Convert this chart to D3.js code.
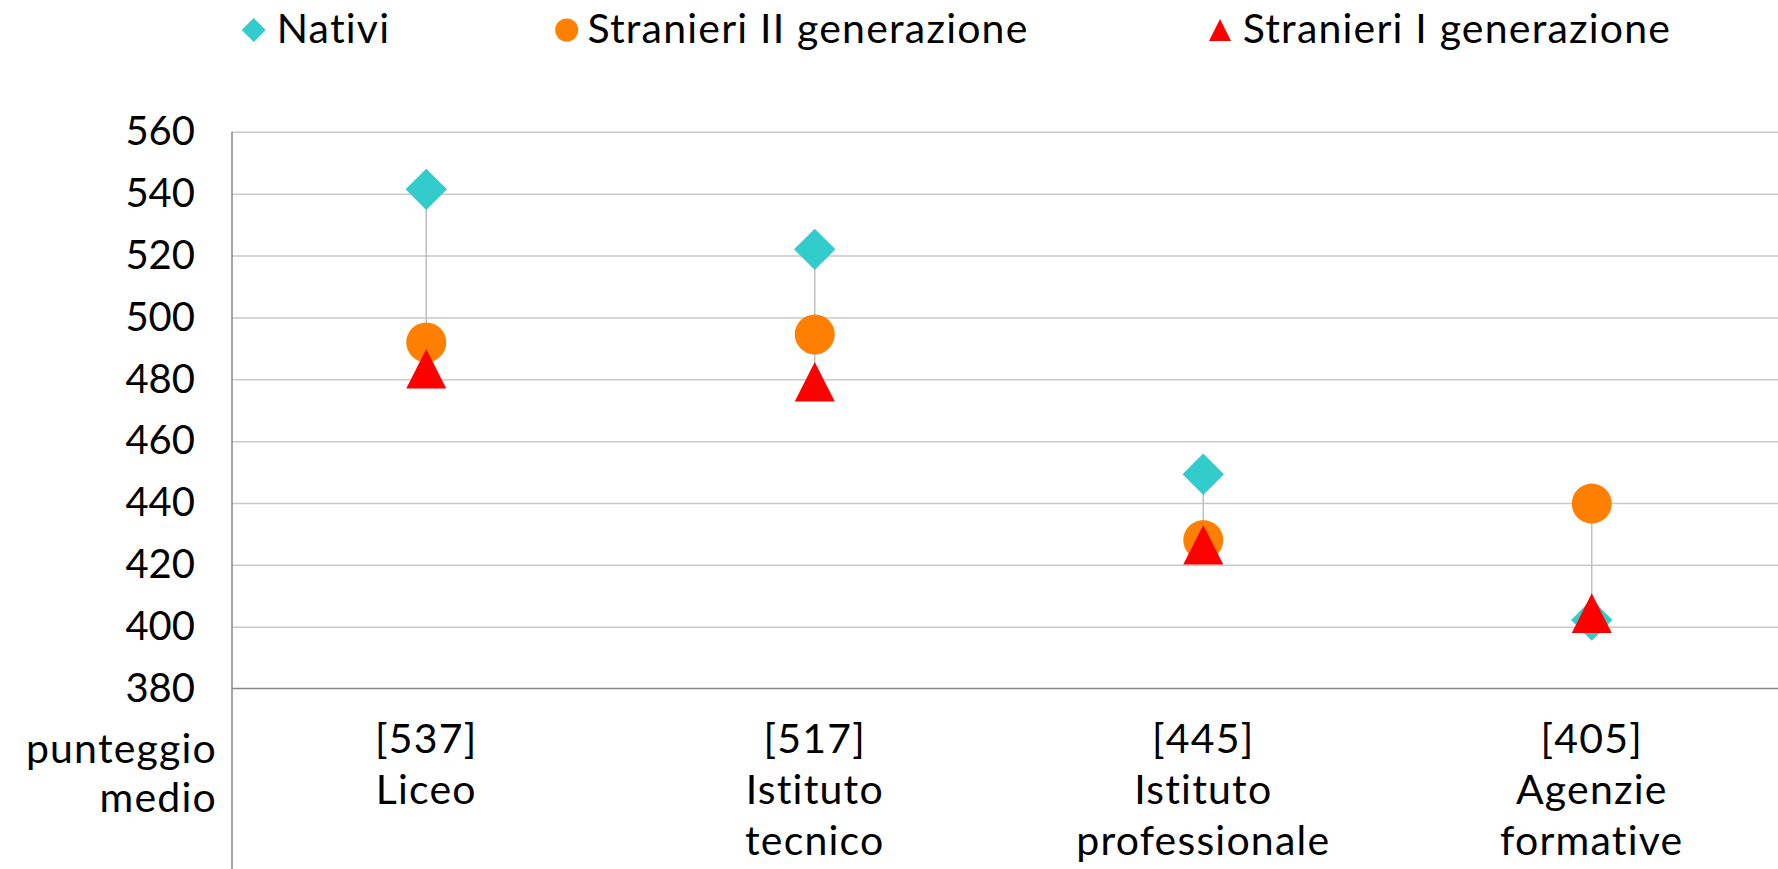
<!DOCTYPE html>
<html>
<head>
<meta charset="utf-8">
<script src="https://cdn.jsdelivr.net/npm/d3@7"></script>
<style>
  html, body { margin: 0; padding: 0; background: #ffffff; }
  svg { display: block; }
  text { font-family: Lato, "Open Sans", sans-serif; fill: #000; }
  .lbl { font-size: 41px; letter-spacing: 1.2px; }
</style>
</head>
<body>
<svg id="chart" width="1778" height="869"></svg>
<script>
// ---- data ----
const categories = ["Liceo", "Istituto tecnico", "Istituto professionale", "Agenzie formative"];
const categoryLines = [["[537]", "Liceo"], ["[517]", "Istituto", "tecnico"], ["[445]", "Istituto", "professionale"], ["[405]", "Agenzie", "formative"]];
const nativi = [541.4, 522.0, 449.3, 402.2];
const stranieriII = [491.9, 494.5, 428.0, 439.8];
const stranieriI = [483.4, 479.2, 426.5, 404.4];
const yTicks = [380, 400, 420, 440, 460, 480, 500, 520, 540, 560];
const seriesNames = ["Nativi", "Stranieri II generazione", "Stranieri I generazione"];
const axisTitleLines = ["punteggio", "medio"];

// ---- layout ----
const W = 1778, H = 869;
const plotLeft = 232, plotRight = 1786, plotTop = 131.8, plotBottom = 688.6;
const colors = { nativi: "#33CCCC", II: "#FF8000", I: "#FF0000" };

const svg = d3.select("#chart");

const x = d3.scalePoint().domain(categories).range([plotLeft, plotRight]).padding(0.5);
const y = d3.scaleLinear().domain([380, 560]).range([plotBottom, plotTop]);

// gridlines
const grid = svg.append("g").attr("transform", `translate(${plotLeft},0)`)
  .call(d3.axisLeft(y).tickValues(yTicks.filter(v => v !== 380)).tickSize(-(W - plotLeft)).tickFormat(""));
grid.select(".domain").remove();
grid.selectAll("line").attr("stroke", "#C9C9C9").attr("stroke-width", 1.5);

// y tick labels
const yAxis = svg.append("g").attr("transform", `translate(195,0)`)
  .call(d3.axisLeft(y).tickValues(yTicks).tickSize(0).tickPadding(0).tickFormat(d3.format("d")));
yAxis.select(".domain").remove();
yAxis.selectAll("text").attr("font-size", 40).attr("font-family", "Lato, sans-serif").attr("fill", "#000");

// axes lines
svg.append("line").attr("x1", plotLeft).attr("x2", W).attr("y1", y(380)).attr("y2", y(380))
  .attr("stroke", "#878787").attr("stroke-width", 1.5);
svg.append("line").attr("x1", plotLeft).attr("x2", plotLeft).attr("y1", y(560)).attr("y2", H)
  .attr("stroke", "#878787").attr("stroke-width", 1.5);

// high-low lines
categories.forEach((c, i) => {
  const vals = [nativi[i], stranieriII[i], stranieriI[i]];
  svg.append("line").attr("x1", x(c)).attr("x2", x(c))
    .attr("y1", y(d3.max(vals))).attr("y2", y(d3.min(vals)))
    .attr("stroke", "#BFBFBF").attr("stroke-width", 1.5);
});

// marker shapes
function diamond(cx, cy, r) {
  return `M${cx},${cy - r}L${cx + r},${cy}L${cx},${cy + r}L${cx - r},${cy}Z`;
}
function triangle(cx, cy, w, h) {
  return `M${cx},${cy - h / 2}L${cx + w / 2},${cy + h / 2}L${cx - w / 2},${cy + h / 2}Z`;
}

// Nativi
svg.append("g").selectAll("path").data(nativi).join("path")
  .attr("d", (d, i) => diamond(x(categories[i]), y(d), 20.7))
  .attr("fill", colors.nativi);
// Stranieri II
svg.append("g").selectAll("circle").data(stranieriII).join("circle")
  .attr("cx", (d, i) => x(categories[i])).attr("cy", d => y(d)).attr("r", 20)
  .attr("fill", colors.II);
// Stranieri I
svg.append("g").selectAll("path").data(stranieriI).join("path")
  .attr("d", (d, i) => triangle(x(categories[i]), y(d), 40, 39.6))
  .attr("fill", colors.I);

// category labels
categories.forEach((c, i) => {
  const t = svg.append("text").attr("class", "lbl").attr("x", x(c)).attr("y", 753.3)
    .attr("text-anchor", "middle");
  categoryLines[i].forEach((ln, j) => {
    t.append("tspan").attr("x", x(c)).attr("y", 753.3 + j * 51).text(ln);
  });
});

// "punteggio medio"
axisTitleLines.forEach((ln, j) => {
  svg.append("text").attr("class", "lbl").attr("x", 217).attr("y", 763 + j * 48.7)
    .attr("text-anchor", "end").text(ln);
});

// legend
const legendY = 30, legendBase = 42.7;
const lg = svg.append("g");
lg.append("path").attr("d", diamond(253.7, legendY, 12)).attr("fill", colors.nativi);
lg.append("text").attr("class", "lbl").attr("x", 276.7).attr("y", legendBase).text(seriesNames[0]);
lg.append("circle").attr("cx", 566.7).attr("cy", legendY).attr("r", 11.5).attr("fill", colors.II);
lg.append("text").attr("class", "lbl").attr("x", 587.4).attr("y", legendBase).text(seriesNames[1]);
lg.append("path").attr("d", triangle(1220, legendY, 22, 22)).attr("fill", colors.I);
lg.append("text").attr("class", "lbl").attr("x", 1242.7).attr("y", legendBase).text(seriesNames[2]);
</script>
</body>
</html>
